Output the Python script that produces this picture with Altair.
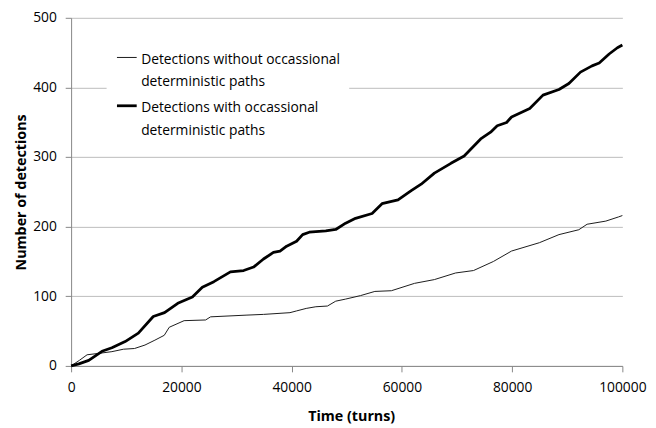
import altair as alt
import pandas as pd

series_names = [
    "Detections without occassional|deterministic paths",
    "Detections with occassional|deterministic paths",
]

without_t = [0, 1500, 2900, 5000, 7400, 9500, 11500, 13400, 15200, 16900, 17800, 20500, 24400, 25300,
             31900, 34900, 39700, 40900, 42650, 44400, 46500, 48000, 49800, 52500, 55100, 58100, 62300,
             65900, 69750, 73000, 76600, 79900, 84950, 88500, 92100, 93600, 97000, 99300, 100000]
without_v = [0, 8, 16, 18, 20.5, 24, 25, 30, 37, 44, 55.5, 65, 66, 70.5,
             73, 74, 76.5, 79, 82.6, 85, 86, 93, 96, 101, 107, 108, 118.6,
             124, 133.5, 137, 150, 165, 177, 188.6, 195.6, 203.5, 208, 214, 216]

with_t = [0, 1400, 3200, 5600, 7400, 9800, 12200, 14900, 16950, 19350, 22000, 23800, 25900, 28900,
          31300, 33100, 34900, 36700, 37900, 39100, 40900, 42000, 43200, 46200, 48000, 49800, 51600,
          54600, 56400, 59300, 61700, 63500, 65900, 68900, 71300, 74300, 76100, 77300, 79000, 79900,
          83200, 85600, 88500, 90300, 92400, 94500, 95800, 97600, 99100, 100000]
with_v = [0, 3, 8, 21, 26, 35, 47, 71, 76.6, 90, 99, 113, 121, 135,
          137, 142, 153.6, 163, 165, 172, 179, 188.6, 192, 194, 196, 205, 212,
          219, 233, 238.5, 251.7, 261, 277, 291, 301.5, 326, 335.7, 345, 349.7, 357.6,
          369.7, 389, 397, 405.7, 422, 431, 435, 448, 457, 461]

x_ticks = [0, 20000, 40000, 60000, 80000, 100000]
y_ticks = [0, 100, 200, 300, 400, 500]

rows = []
for t, v in zip(without_t, without_v):
    rows.append({"t": t, "v": v, "series": series_names[0]})
for t, v in zip(with_t, with_v):
    rows.append({"t": t, "v": v, "series": series_names[1]})
df = pd.DataFrame(rows)

FONT = "Open Sans"

legend = alt.Legend(
    title=None,
    orient="none",
    legendX=36,
    legendY=16,
    symbolType="M-1,0.47H1",
    symbolSize=400,
    labelExpr="split(datum.label, '|')",
    labelFont=FONT,
    labelFontSize=14,
    labelColor="#000000",
    labelBaseline="top",
    labelLimit=0,
    labelOffset=3,
    fillColor="white",
    padding=9,
    rowPadding=0,
)

chart = alt.Chart(df).mark_line(strokeJoin="round").encode(
    x=alt.X("t:Q", scale=alt.Scale(domain=[0, 100000], nice=False),
            axis=alt.Axis(title="Time (turns)", values=x_ticks, format="d", grid=False,
                          labelFlush=False, tickSize=6, labelBaseline="alphabetic", labelPadding=20,
                          titleX=284, titleY=55, titleBaseline="alphabetic", titleAlign="center")),
    y=alt.Y("v:Q", scale=alt.Scale(domain=[0, 500], nice=False),
            axis=alt.Axis(title="Number of detections", values=y_ticks, grid=True,
                          tickSize=6, labelPadding=9,
                          titleX=-46, titleY=176.5, titleAngle=270, titleBaseline="alphabetic",
                          titleAlign="center")),
    color=alt.Color("series:N", scale=alt.Scale(domain=series_names, range=["#1a1a1a", "#000000"]),
                    legend=legend),
    strokeWidth=alt.StrokeWidth("series:N", scale=alt.Scale(domain=series_names, range=[1, 2.8]),
                                legend=legend),
    order=alt.Order("t:Q"),
).properties(
    width=559,
    height=353,
    autosize=alt.AutoSizeParams(type="none"),
    padding={"left": 64, "top": 7, "right": 26, "bottom": 60},
).configure(
    view={"stroke": None},
    axis={
        "labelFont": FONT,
        "labelFontSize": 14,
        "labelColor": "#000000",
        "titleFont": FONT,
        "titleFontSize": 14.5,
        "titleFontWeight": "bold",
        "titleColor": "#000000",
        "domainColor": "#868686",
        "tickColor": "#868686",
        "gridColor": "#bcbcbc",
    },
    style={"guide-label": {"lineHeight": 23}},
)

chart.save("out.html", embed_options={"renderer": "svg", "actions": False})
